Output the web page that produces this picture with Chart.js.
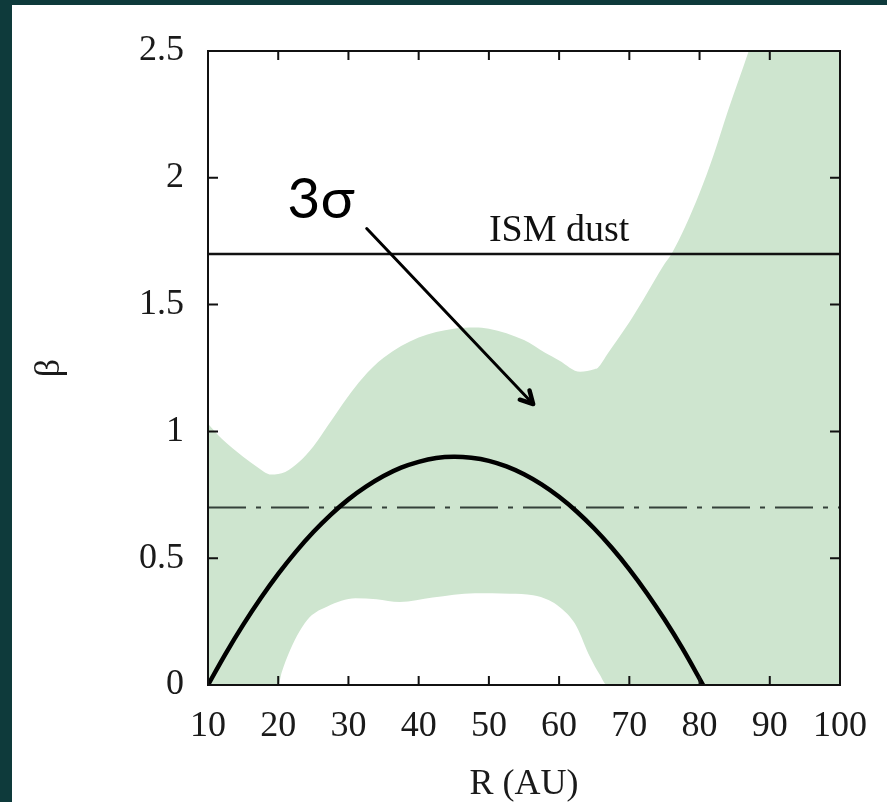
<!DOCTYPE html>
<html>
<head>
<meta charset="utf-8">
<script src="https://cdn.jsdelivr.net/npm/chart.js@4.4.1/dist/chart.umd.min.js"></script>
<style>
    body { margin: 0; background: #0e3a3b; }
    #marco { position: absolute; left: 12px; top: 5px; width: 875px; height: 797px; background: #fff; }
</style>
</head>
<body>
<div id="marco"><canvas id="myChart" width="875" height="797"></canvas></div>
<script>
// banda 3 sigma: borde superior e inferior
const radioSup = [10, 12, 15, 17, 19, 21, 23, 25, 27, 30, 32, 35, 40, 45, 48, 50, 55, 58, 60, 63, 65, 65.5, 67, 70, 72, 75, 76, 78, 80, 82, 84, 87, 90, 95, 100];
const betaSup = [1.03, 0.97, 0.90, 0.86, 0.83, 0.84, 0.88, 0.94, 1.02, 1.14, 1.21, 1.29, 1.37, 1.405, 1.41, 1.405, 1.36, 1.31, 1.28, 1.235, 1.245, 1.25, 1.31, 1.43, 1.52, 1.66, 1.70, 1.81, 1.94, 2.09, 2.26, 2.50, 2.76, 3.2, 3.7];
const radioInf = [10, 20, 20.5, 21.7, 23, 24.5, 27, 31, 34, 37.3, 42, 48, 53, 56.3, 58.5, 60.1, 61.5, 62.5, 64.4, 65.8, 66.8, 100];
const betaInf = [0, 0, 0.05, 0.138, 0.21, 0.268, 0.31, 0.342, 0.338, 0.327, 0.345, 0.362, 0.36, 0.354, 0.335, 0.307, 0.27, 0.23, 0.11, 0.04, 0, 0];

// mejor ajuste
const radioAjuste = [10, 12.5, 15, 17.5, 20, 22.5, 25, 27.5, 30, 32.5, 35, 37.5, 40, 42.5, 45, 47.5, 50, 52.5, 55, 57.5, 60, 62.5, 65, 67.5, 70, 72.5, 75, 77.5, 80.5];
const betaAjuste = [0, 0.123, 0.237, 0.342, 0.438, 0.525, 0.603, 0.672, 0.732, 0.782, 0.824, 0.857, 0.880, 0.895, 0.900, 0.896, 0.884, 0.862, 0.831, 0.791, 0.742, 0.684, 0.617, 0.541, 0.456, 0.362, 0.259, 0.147, 0];

// lineas horizontales
const radioLimites = [10, 100];
const betaISM = 1.7;
const betaRaya = 0.7;

// ejes
const ticksX = [10, 100, 10];   // min, max, paso
const ticksY = [0, 2.5, 0.5];

// anotaciones (en coordenadas de datos)
const textoISM = { r: 70, beta: 1.75, texto: 'ISM dust' };
const textoSigma = { r: 21.3, beta: 1.84, texto: '3σ' };
const flecha = { r0: 32.6, b0: 1.80, r1: 56.3, b1: 1.108 };

const ctx = document.getElementById('myChart');
const puntos = (xs, ys) => xs.map((x, i) => ({ x: x, y: ys[i] }));
const serif = 'Liberation Serif';

const marcoEjes = {
    id: 'marcoEjes',
    afterDatasetsDraw(chart) {
        const { ctx, chartArea: a, scales: { x, y } } = chart;
        ctx.save();
        ctx.strokeStyle = '#111';
        ctx.lineWidth = 2;
        ctx.beginPath();
        x.ticks.forEach(t => {
            const px = x.getPixelForValue(t.value);
            ctx.moveTo(px, a.bottom); ctx.lineTo(px, a.bottom - 9);
            ctx.moveTo(px, a.top); ctx.lineTo(px, a.top + 9);
        });
        y.ticks.forEach(t => {
            const py = y.getPixelForValue(t.value);
            ctx.moveTo(a.left, py); ctx.lineTo(a.left + 10, py);
            ctx.moveTo(a.right, py); ctx.lineTo(a.right - 10, py);
        });
        ctx.stroke();
        ctx.strokeRect(a.left, a.top, a.right - a.left, a.bottom - a.top);
        ctx.restore();
    }
};

const anotaciones = {
    id: 'anotaciones',
    afterDraw(chart) {
        const { ctx, scales: { x, y } } = chart;
        ctx.save();
        ctx.fillStyle = '#111';
        ctx.textBaseline = 'alphabetic';

        ctx.font = '38px "' + serif + '"';
        ctx.textAlign = 'right';
        ctx.fillText(textoISM.texto, x.getPixelForValue(textoISM.r), y.getPixelForValue(textoISM.beta));

        ctx.font = '57px Lato';
        ctx.textAlign = 'left';
        ctx.fillStyle = '#000';
        ctx.fillText(textoSigma.texto, x.getPixelForValue(textoSigma.r), y.getPixelForValue(textoSigma.beta));

        const x0 = x.getPixelForValue(flecha.r0), y0 = y.getPixelForValue(flecha.b0);
        const x1 = x.getPixelForValue(flecha.r1), y1 = y.getPixelForValue(flecha.b1);
        const ang = Math.atan2(y1 - y0, x1 - x0);
        ctx.strokeStyle = '#000';
        ctx.lineCap = 'round';
        ctx.lineJoin = 'round';
        ctx.lineWidth = 3;
        ctx.beginPath();
        ctx.moveTo(x0, y0);
        ctx.lineTo(x1, y1);
        ctx.stroke();
        ctx.lineWidth = 4.5;
        ctx.beginPath();
        ctx.moveTo(x1 - 14 * Math.cos(ang - 0.5), y1 - 14 * Math.sin(ang - 0.5));
        ctx.lineTo(x1, y1);
        ctx.lineTo(x1 - 14 * Math.cos(ang + 0.5), y1 - 14 * Math.sin(ang + 0.5));
        ctx.stroke();
        ctx.restore();
    }
};

new Chart(ctx, {
    type: 'line',
    data: {
        datasets: [
            {
                label: 'inferior',
                data: puntos(radioInf, betaInf),
                borderWidth: 0,
                pointRadius: 0,
                cubicInterpolationMode: 'monotone',
                fill: false,
                order: 11
            },
            {
                label: 'superior',
                data: puntos(radioSup, betaSup),
                borderWidth: 0,
                pointRadius: 0,
                cubicInterpolationMode: 'monotone',
                backgroundColor: '#cee5cf',
                fill: { target: 0 },
                order: 10
            },
            {
                label: 'raya-punto',
                data: puntos(radioLimites, [betaRaya, betaRaya]),
                borderColor: '#34413a',
                borderWidth: 1.8,
                borderDash: [38, 10, 5, 10],
                pointRadius: 0,
                fill: false,
                order: 3
            },
            {
                label: 'ISM',
                data: puntos(radioLimites, [betaISM, betaISM]),
                borderColor: '#111',
                borderWidth: 2.5,
                pointRadius: 0,
                fill: false,
                order: 2
            },
            {
                label: 'ajuste',
                data: puntos(radioAjuste, betaAjuste),
                borderColor: '#000',
                borderWidth: 4.5,
                pointRadius: 0,
                tension: 0.4,
                fill: false,
                order: 1
            }
        ]
    },
    options: {
        responsive: false,
        animation: false,
        events: [],
        layout: { padding: { top: 46, right: 47, left: 0, bottom: 0 } },
        plugins: { legend: { display: false }, tooltip: { enabled: false } },
        scales: {
            x: {
                type: 'linear',
                min: ticksX[0],
                max: ticksX[1],
                afterFit: s => { s.height = 117; },
                grid: { display: false, drawTicks: false },
                border: { display: false },
                ticks: { stepSize: ticksX[2], padding: 20, color: '#1a1a1a', font: { family: serif, size: 36 } },
                title: { display: true, text: 'R (AU)', color: '#1a1a1a', padding: { top: 0, bottom: -4 }, font: { family: serif, size: 36 } }
            },
            y: {
                type: 'linear',
                min: ticksY[0],
                max: ticksY[1],
                afterFit: s => { s.width = 196; },
                grid: { display: false, drawTicks: false },
                border: { display: false },
                ticks: {
                    stepSize: ticksY[2],
                    padding: 24,
                    color: '#1a1a1a',
                    font: { family: serif, size: 36 },
                    callback: v => String(v)
                },
                title: { display: true, text: 'β', color: '#1a1a1a', padding: 16, font: { family: serif, size: 36 } }
            }
        }
    },
    plugins: [marcoEjes, anotaciones]
});
</script>
</body>
</html>
